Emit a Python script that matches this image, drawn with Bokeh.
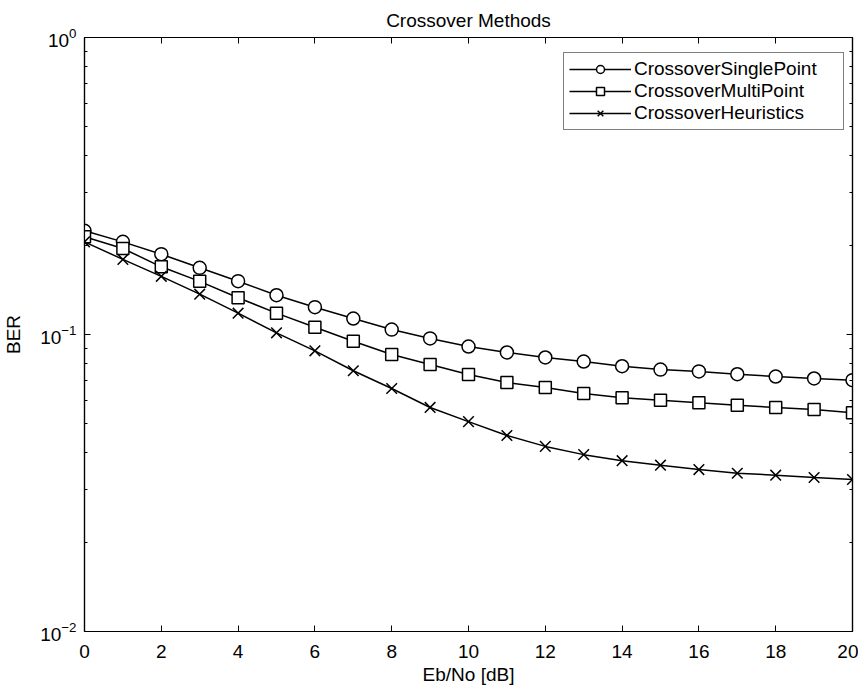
from bokeh.plotting import figure
from bokeh.models import (Range1d, FixedTicker, LinearAxis, LogAxis, Legend, LegendItem)
from bokeh.embed import file_html
from bokeh.resources import INLINE

# ---- data ----
ebno = list(range(0, 21))
single_point = [0.2234, 0.2051, 0.1864, 0.1677, 0.1512, 0.1356, 0.1236, 0.1132, 0.1039,
                0.0970, 0.0911, 0.0870, 0.0837, 0.0811, 0.0782, 0.0762, 0.0751, 0.0735,
                0.0722, 0.0711, 0.0702]
multi_point = [0.2133, 0.1948, 0.1690, 0.1510, 0.1330, 0.1180, 0.1058, 0.0949, 0.0856,
               0.0793, 0.0733, 0.0689, 0.0663, 0.0633, 0.0612, 0.0601, 0.0589, 0.0578,
               0.0568, 0.0559, 0.0545]
heuristics = [0.2051, 0.1790, 0.1570, 0.1367, 0.1180, 0.1013, 0.0881, 0.0755, 0.0658,
              0.0568, 0.0509, 0.0457, 0.0420, 0.0394, 0.0376, 0.0363, 0.0351, 0.0341,
              0.0336, 0.0330, 0.0325]
series_names = ["CrossoverSinglePoint", "CrossoverMultiPoint", "CrossoverHeuristics"]
x_ticks = [0, 2, 4, 6, 8, 10, 12, 14, 16, 18, 20]
y_ticks = [0.01, 0.1, 1.0]
y_minor = [m * d for d in (0.01, 0.1) for m in range(2, 10)]

FONT = "Liberation Sans"
FS = "19px"

FRAME_W, FRAME_H = 768, 594
p = figure(width=858, height=687, y_axis_type="log",
           x_range=Range1d(0, 20), y_range=Range1d(0.01, 1.0),
           output_backend="svg", toolbar_location=None,
           title="Crossover Methods",
           min_border_left=84, min_border_right=6, min_border_top=37, min_border_bottom=56)

p.title.text_font = FONT
p.title.text_font_size = FS
p.title.text_font_style = "normal"
p.title.text_color = "black"
p.title.align = "center"
p.title.standoff = 14

p.xgrid.visible = False
p.ygrid.visible = False
p.outline_line_color = "black"
p.outline_line_width = 1.2
p.background_fill_color = "white"
p.border_fill_color = "white"

def style_axis(ax, show_labels=True):
    ax.major_tick_in = 6
    ax.major_tick_out = 0
    ax.minor_tick_in = 3
    ax.minor_tick_out = 0
    ax.axis_line_color = "black"
    ax.axis_line_width = 1.2
    ax.major_tick_line_color = "black"
    ax.minor_tick_line_color = "black"
    ax.major_label_text_font = FONT
    ax.major_label_text_font_size = FS if show_labels else "1px"
    ax.major_label_text_alpha = 1.0 if show_labels else 0.0
    ax.major_label_text_color = "black"
    ax.major_label_standoff = 6 if show_labels else 0
    ax.axis_label_text_font = FONT
    ax.axis_label_text_font_size = FS
    ax.axis_label_text_font_style = "normal"
    ax.axis_label_text_color = "black"

xa = p.xaxis[0]
xa.ticker = FixedTicker(ticks=x_ticks)
xa.axis_label = "Eb/No [dB]"
style_axis(xa)
xa.major_label_standoff = 13
xa.axis_label_standoff = 3

ya = p.yaxis[0]
ya.ticker = FixedTicker(ticks=y_ticks, minor_ticks=y_minor)
ya.axis_label = "BER"
style_axis(ya)
ya.major_label_standoff = 8
ya.axis_label_standoff = 13

top = LinearAxis(ticker=FixedTicker(ticks=x_ticks))
style_axis(top, False)
p.add_layout(top, "above")
right = LogAxis(ticker=FixedTicker(ticks=y_ticks, minor_ticks=y_minor))
style_axis(right, False)
p.add_layout(right, "right")

items = []
for ys, marker, name, sz in [(single_point, "circle", series_names[0], 13),
                             (multi_point, "square", series_names[1], 12),
                             (heuristics, "x", series_names[2], 15)]:
    ln = p.line(ebno, ys, line_color="black", line_width=1.5)
    sc = p.scatter(ebno, ys, marker=marker, size=sz, line_color="black",
                   fill_color="white", line_width=1.5)
    items.append(LegendItem(label=name, renderers=[ln, sc]))

legend = Legend(items=items, location=(FRAME_W - 281 - 8, 501), margin=0,
                glyph_width=62, glyph_height=20, label_height=20, label_width=204,
                label_standoff=3, spacing=0, padding=5,
                label_text_font=FONT, label_text_font_size=FS, label_text_color="black",
                border_line_color="black", border_line_width=1.2,
                background_fill_color="white", background_fill_alpha=1.0)
p.add_layout(legend)

open("out.html", "w").write(file_html(p, INLINE))
